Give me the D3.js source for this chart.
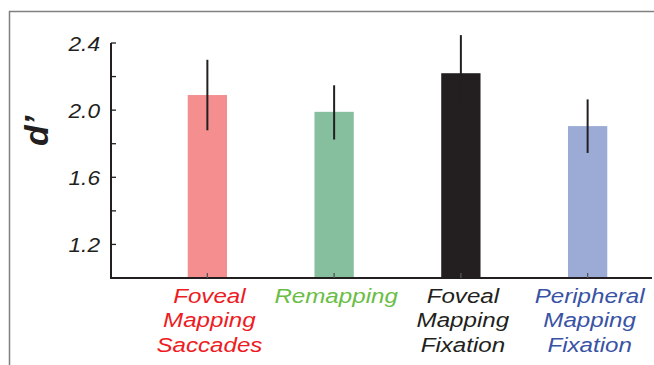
<!DOCTYPE html>
<html>
<head>
<meta charset="utf-8">
<script src="https://cdn.jsdelivr.net/npm/d3@7"></script>
<style>
  body { margin: 0; background: #fff; }
  svg { display: block; font-family: Arial, "Liberation Sans", sans-serif; }
</style>
</head>
<body>
<svg id="chart" width="654" height="365"></svg>
<script>
// data
var categories = ["Foveal Mapping Saccades", "Remapping", "Foveal Mapping Fixation", "Peripheral Mapping Fixation"];
var labelLines = [["Foveal", "Mapping", "Saccades"], ["Remapping"], ["Foveal", "Mapping", "Fixation"], ["Peripheral", "Mapping", "Fixation"]];
var means = [2.09, 1.99, 2.22, 1.905];
var errLow = [1.88, 1.825, 2.0, 1.745];
var errHigh = [2.30, 2.148, 2.447, 2.064];
var barColors = ["#f48e8f", "#86bf9e", "#231f20", "#9babd6"];
var textColors = ["#ed1c24", "#6abd45", "#231f20", "#3953a4"];
var yTicks = [1.2, 1.6, 2.0, 2.4];
var yMinor = [1.4, 1.8, 2.2];

var svg = d3.select("#chart");

// outer frame
svg.append("path")
    .attr("d", "M9.5,365 V11.5 H654")
    .attr("fill", "none")
    .attr("stroke", "#808080")
    .attr("stroke-width", 1.5);

var axLeft = 111, axRight = 652, axTop = 43, axBottom = 278;

var x = d3.scaleBand()
    .domain(categories)
    .range([144, 651])
    .paddingInner(0.69)
    .paddingOuter(0.345);

var y = d3.scaleLinear()
    .domain([1.0, 2.4])
    .range([axBottom, axTop]);

var g = svg.append("g");

// bars
g.selectAll("rect.bar")
    .data(categories)
    .enter()
    .append("rect")
    .attr("class", "bar")
    .attr("x", d => x(d))
    .attr("width", x.bandwidth())
    .attr("y", (d, i) => y(means[i]))
    .attr("height", (d, i) => axBottom - y(means[i]))
    .attr("fill", (d, i) => barColors[i]);

// error bars
g.selectAll("line.err")
    .data(categories)
    .enter()
    .append("line")
    .attr("class", "err")
    .attr("x1", d => x(d) + x.bandwidth() / 2)
    .attr("x2", d => x(d) + x.bandwidth() / 2)
    .attr("y1", (d, i) => y(errLow[i]))
    .attr("y2", (d, i) => y(errHigh[i]))
    .attr("stroke", "#231f20")
    .attr("stroke-width", 2);

// y axis
var yAxis = g.append("g")
    .attr("transform", "translate(" + axLeft + ",0)");
yAxis.append("line")
    .attr("x1", 0).attr("x2", 0)
    .attr("y1", y(2.4)).attr("y2", axBottom)
    .attr("stroke", "#231f20").attr("stroke-width", 2);
yAxis.selectAll("line.tick")
    .data(yTicks.concat(yMinor))
    .enter()
    .append("line")
    .attr("class", "tick")
    .attr("x1", 0).attr("x2", 5)
    .attr("y1", d => y(d)).attr("y2", d => y(d))
    .attr("stroke", "#231f20").attr("stroke-width", 1.3);
yAxis.selectAll("text")
    .data(yTicks)
    .enter()
    .append("text")
    .attr("transform", d => "translate(-11," + y(d) + ") scale(1.08,1)")
    .attr("dy", "0.36em")
    .attr("text-anchor", "end")
    .attr("font-size", 21)
    .attr("font-style", "italic")
    .attr("fill", "#231f20")
    .text(d => d3.format(".1f")(d));

// x axis
g.append("line")
    .attr("x1", axLeft - 1).attr("x2", axRight)
    .attr("y1", axBottom).attr("y2", axBottom)
    .attr("stroke", "#231f20").attr("stroke-width", 2);
g.selectAll("line.xtick")
    .data(categories)
    .enter()
    .append("line")
    .attr("class", "xtick")
    .attr("x1", d => x(d) + x.bandwidth() / 2)
    .attr("x2", d => x(d) + x.bandwidth() / 2)
    .attr("y1", axBottom).attr("y2", axBottom - 5)
    .attr("stroke", "#555").attr("stroke-width", 1.3);

// category labels
var labels = g.selectAll("g.cat")
    .data(categories)
    .enter()
    .append("g")
    .attr("class", "cat")
    .attr("transform", d => "translate(" + (x(d) + x.bandwidth() / 2 + 2) + ",0) scale(1.15,1)")
    .append("text")
    .attr("text-anchor", "middle")
    .attr("font-size", 21)
    .attr("font-style", "italic")
    .attr("fill", (d, i) => textColors[i]);
labels.selectAll("tspan")
    .data((d, i) => labelLines[i])
    .enter()
    .append("tspan")
    .attr("x", 0)
    .attr("y", (d, j) => 303 + j * 24.5)
    .text(d => d);

// y label
svg.append("text")
    .attr("transform", "translate(48,131) rotate(-90)")
    .attr("text-anchor", "middle")
    .attr("font-size", 34)
    .attr("font-weight", "bold")
    .attr("font-style", "italic")
    .attr("fill", "#231f20")
    .text("d\u2019");
</script>
</body>
</html>
